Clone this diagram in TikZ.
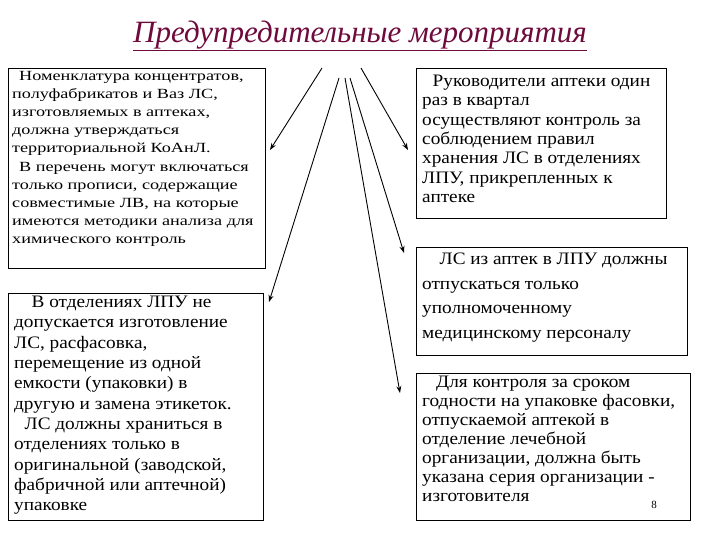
\documentclass[tikz,border=0pt]{standalone}
\usepackage{fontspec}
\setmainfont{Liberation Serif}
\newfontfamily\wideA[FakeStretch=1.3]{Liberation Serif}
\newfontfamily\wideB[FakeStretch=1.1]{Liberation Serif}
\usetikzlibrary{arrows.meta}
\definecolor{titlec}{RGB}{110,10,60}
\begin{document}
\begin{tikzpicture}[x=1pt,y=-1pt,
  box/.style={draw,line width=0.8pt,inner sep=0pt},
  txt/.style={anchor=north west,align=left,inner sep=0pt},
  arr/.style={line width=0.9pt,-{Stealth[length=7pt,width=5pt]}}]
\useasboundingbox (0,0) rectangle (720,540);
\node (title) [anchor=center,font=\itshape\fontsize{31}{34}\selectfont,text=titlec] at (360,36) {\underline{Предупредительные мероприятия}};
% boxes
\draw[box] (8,68) rectangle (265,268);
\node[txt,font=\wideA\fontsize{14}{18}\selectfont] at (12,71) {\hspace*{0.5em}Номенклатура концентратов,\\полуфабрикатов и Ваз ЛС,\\изготовляемых в аптеках,\\должна утверждаться\\территориальной КоАнЛ.\\[1pt]\hspace*{0.5em}В перечень могут включаться\\только прописи, содержащие\\совместимые ЛВ, на которые\\имеются методики анализа для\\химического контроль};
\draw[box] (8,293) rectangle (263,520);
\node[txt,font=\wideB\fontsize{17.5}{20.3}\selectfont] at (14,296) {\hspace*{1em}В отделениях ЛПУ не\\допускается изготовление\\ЛС, расфасовка,\\перемещение из одной\\емкости (упаковки) в\\другую и замена этикеток.\\\hspace*{0.6em}ЛС должны храниться в\\отделениях только в\\оригинальной (заводской,\\фабричной или аптечной)\\упаковке};
\draw[box] (416,68) rectangle (666,218);
\node[txt,font=\wideB\fontsize{17.5}{19.3}\selectfont] at (422,75) {\hspace*{0.6em}Руководители аптеки один\\раз в квартал\\осуществляют контроль за\\соблюдением правил\\хранения ЛС в отделениях\\ЛПУ, прикрепленных к\\аптеке};
\draw[box] (416,247) rectangle (687,355);
\node[txt,font=\wideB\fontsize{17.5}{24.5}\selectfont] at (422,253) {\hspace*{1em}ЛС из аптек в ЛПУ должны\\отпускаться только\\уполномоченному\\медицинскому персоналу};
\draw[box] (416,373) rectangle (690,520);
\node[txt,font=\wideB\fontsize{17.5}{19}\selectfont] at (422,376) {\hspace*{0.8em}Для контроля за сроком\\годности на упаковке фасовки,\\отпускаемой аптекой в\\отделение лечебной\\организации, должна быть\\указана серия организации -\\изготовителя};
\node[font=\fontsize{11}{12}\selectfont] at (654,505) {8};
% arrows
\coordinate (s1) at (322,68); \coordinate (e1) at (270,150);
\coordinate (s2) at (361,68); \coordinate (e2) at (408,150);
\coordinate (s3) at (339,78); \coordinate (e3) at (269,302);
\coordinate (s4) at (345,78); \coordinate (e4) at (400,393);
\coordinate (s5) at (350,78); \coordinate (e5) at (404,253);
\draw[arr] (s1) -- (e1);
\draw[arr] (s2) -- (e2);
\draw[arr] (s3) -- (e3);
\draw[arr] (s4) -- (e4);
\draw[arr] (s5) -- (e5);
\end{tikzpicture}
\end{document}
